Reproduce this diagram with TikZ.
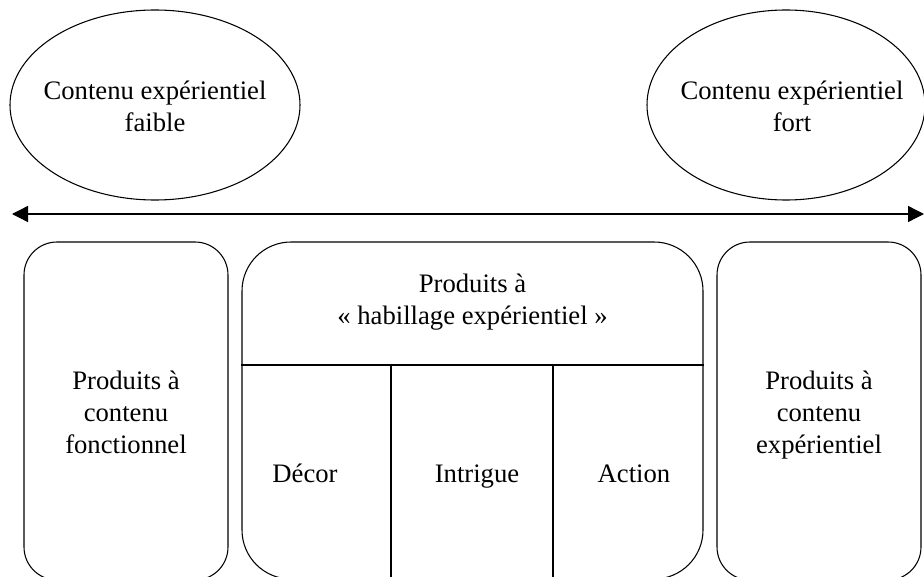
\documentclass[tikz,border=0pt]{standalone}
\usepackage{fontspec}
\setmainfont{Liberation Serif}
\usepackage{tikz}
\usetikzlibrary{shapes,arrows,positioning,calc,arrows.meta}

\tikzset{
  texte/.style={font=\fontsize{20}{24}\selectfont, align=center, inner sep=0pt, anchor=base},
  bulle/.style={draw, ellipse, line width=0.8pt, inner sep=0pt},
  boite/.style={draw, rectangle, line width=0.8pt, rounded corners=24.75pt,
    minimum width=153pt, minimum height=253.5pt},
  fleche/.style={line width=1pt, {Triangle[length=12pt,width=12pt]}-{Triangle[length=12pt,width=12pt]}}
}

\begin{document}
\begin{tikzpicture}[x=0.75pt, y=-0.75pt]
        \useasboundingbox (0,0) rectangle (924,577);
        \clip (0,0) rectangle (924,577);
        % contenu experientiel
        \node[bulle, minimum width=217.5pt, minimum height=142.5pt] (faible) at (155,105) {};
        \node[bulle, minimum width=208.5pt, minimum height=142.5pt] (fort) at (786,105) {};
        \node[texte] at (155,132) {Contenu expérientiel\\faible};
        \node[texte] at (792,132) {Contenu expérientiel\\fort};
        \coordinate (gauche) at (12,214);
        \coordinate (droite) at (924,214);
        \draw[fleche] (gauche) -- (droite);
        % produits
        \node[boite] (fonctionnel) at (126,411) {};
        \node[boite] (experientiel) at (819,411) {};
        \node[boite, rounded corners=36.75pt, minimum width=345.75pt, minimum height=252.75pt] (habillage) at (472.5,410.5) {};
        \node[texte] at (fonctionnel |- 0,453) {Produits à\\contenu\\fonctionnel};
        \node[texte] at (experientiel |- 0,453) {Produits à\\contenu\\expérientiel};
        \node[texte] (titre) at (472.5,324) {Produits à\\« habillage expérientiel »};
        \coordinate (sepg) at (habillage.west |- 0,365);
        \coordinate (sepd) at (habillage.east |- 0,365);
        \draw[line width=0.8pt] (sepg) -- (sepd);
        \coordinate (col1) at (391,365);
        \coordinate (col2) at (553,365);
        \draw[line width=0.8pt] (col1) -- (col1 |- habillage.south);
        \draw[line width=0.8pt] (col2) -- (col2 |- habillage.south);
        \node[texte] (decor) at (305,482) {Décor};
        \node[texte] (intrigue) at (477,482) {Intrigue};
        \node[texte] (action) at (634,482) {Action};
    \end{tikzpicture}
\end{document}
